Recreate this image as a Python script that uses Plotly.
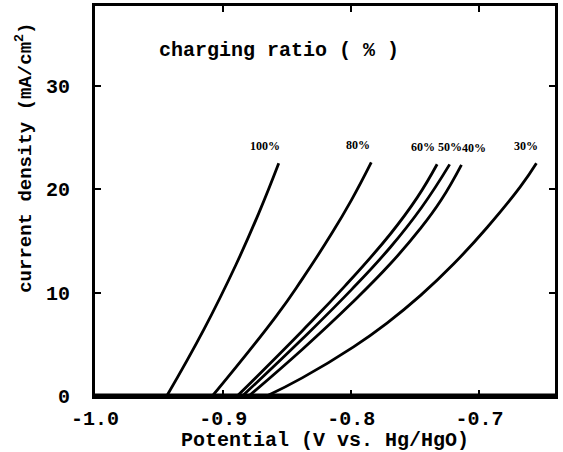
import plotly.graph_objects as go

# Polarization curves: potential (V vs. Hg/HgO) and current density (mA/cm2)
ratios = ["100%", "80%", "60%", "50%", "40%", "30%"]

v_100 = [-0.944, -0.915, -0.890, -0.872, -0.8566]
j_100 = [0.0, 6.44, 12.69, 17.73, 22.5]

v_80 = [-0.9084, -0.8587, -0.8383, -0.8153, -0.800, -0.7844]
j_80 = [0.0, 7.7, 11.3, 15.7, 18.91, 22.58]

v_60 = [-0.889, -0.8383, -0.805, -0.7695, -0.7487, -0.733]
j_60 = [0.0, 6.29, 10.62, 15.66, 19.15, 22.4]

v_50 = [-0.885, -0.8383, -0.800, -0.7695, -0.745, -0.7232]
j_50 = [0.0, 5.51, 10.26, 14.38, 18.25, 22.39]

v_40 = [-0.880, -0.8383, -0.800, -0.7695, -0.7466, -0.730, -0.714]
j_40 = [0.0, 4.5, 8.94, 12.78, 16.1, 18.92, 22.35]

v_30 = [-0.866, -0.8383, -0.7982, -0.7721, -0.7461, -0.720, -0.694,
        -0.668, -0.6555]
j_30 = [0.0, 1.75, 4.75, 7.05, 9.7, 12.78, 16.29, 20.24, 22.5]

series_v = [v_100, v_80, v_60, v_50, v_40, v_30]
series_j = [j_100, j_80, j_60, j_50, j_40, j_30]

x_ticks = [-1.0, -0.9, -0.8, -0.7]
x_tick_text = ["-1.0", "-0.9", "-0.8", "-0.7"]
y_ticks = [0, 10, 20, 30]

# horizontal nudges (px) so the crowded labels stay readable
label_xshift = [-14, -13, -14, 0, 13, -10]

mono = "Liberation Mono, Courier New, monospace"

fig = go.Figure()
for name, v, j in zip(ratios, series_v, series_j):
    fig.add_trace(go.Scatter(
        x=v, y=j, mode="lines", name=name,
        line=dict(color="black", width=2.8, shape="spline", smoothing=1.3),
        showlegend=False, hoverinfo="skip",
    ))

for name, v, j, dx in zip(ratios, series_v, series_j, label_xshift):
    fig.add_annotation(
        x=v[-1], y=j[-1], text=name, showarrow=False,
        xshift=dx, yshift=17, xanchor="center", yanchor="middle",
        font=dict(family="Liberation Serif, Times New Roman, serif",
                  size=12, color="black", weight="bold"),
    )

fig.add_annotation(
    x=0.135, y=0.885, xref="paper", yref="paper", xanchor="left",
    yanchor="middle", text="charging ratio ( % )", showarrow=False,
    font=dict(family=mono, size=20, color="black", weight="bold"),
)

fig.add_annotation(
    x=-0.155, y=0.61, xref="paper", yref="paper", textangle=-90,
    xanchor="center", yanchor="middle", showarrow=False,
    text="current density (mA/cm<sup>2</sup>)",
    font=dict(family=mono, size=19, color="black", weight="bold"),
)

# heavier baseline along the x axis
fig.add_shape(type="line", xref="paper", yref="y", x0=0, x1=1, y0=0, y1=0,
              line=dict(color="black", width=5))

axis_font = dict(family=mono, size=20, color="black", weight="bold")

fig.update_layout(
    width=563, height=452,
    margin=dict(l=95, r=8, t=3, b=54),
    paper_bgcolor="white", plot_bgcolor="white",
    xaxis=dict(
        range=[-1.0, -0.641], tickvals=x_ticks, ticktext=x_tick_text,
        ticks="inside", ticklen=6, tickwidth=2, tickcolor="black",
        showline=True, linecolor="black", linewidth=3, mirror="ticks",
        showgrid=False, zeroline=False, tickfont=axis_font,
        ticklabelstandoff=2,
        title=dict(text="Potential (V vs. Hg/HgO)", font=axis_font, standoff=4),
    ),
    yaxis=dict(
        range=[0, 37.7], tickvals=y_ticks,
        ticks="inside", ticklen=6, tickwidth=2, tickcolor="black",
        showline=True, linecolor="black", linewidth=3, mirror="ticks",
        showgrid=False, zeroline=False, tickfont=axis_font,
        ticklabelstandoff=18,
    ),
)

fig.write_html("out.html")
